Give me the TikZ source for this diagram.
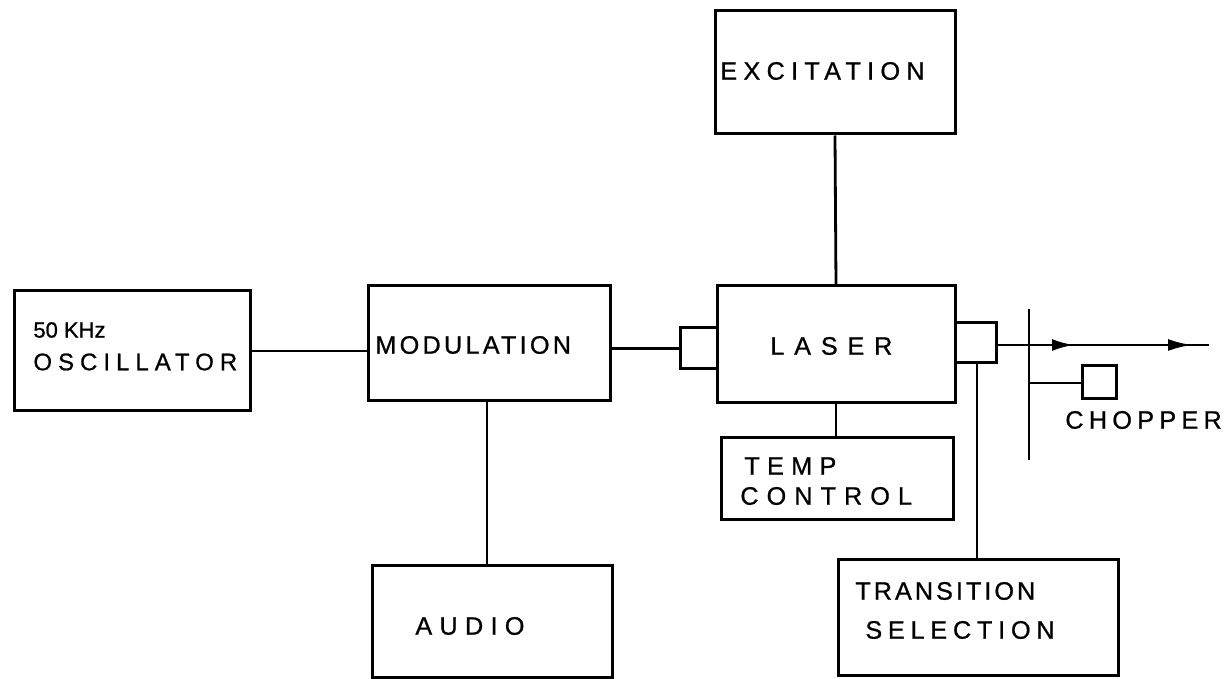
\documentclass[tikz,border=0pt]{standalone}
\usepackage{fontspec}
\setmainfont{Liberation Sans}
\usetikzlibrary{fit,arrows.meta}
\newcommand\lbfont[2]{\fontsize{#1}{#1}\selectfont\addfontfeature{LetterSpace=#2,FakeBold=0.8}}
\begin{document}
\begin{tikzpicture}[x=0.5pt,y=-0.5pt,
  box/.style={draw,line width=1.5pt,inner sep=0pt},
  conn/.style={line width=1.4pt},
  lbl/.style={anchor=west,inner sep=0pt,text=black}]
\useasboundingbox (0,0) rectangle (1228,679);
% boxes
\node[box,fit={(14,291) (250,411)}] (osc) {};
\node[box,fit={(368,286) (610,401)}] (mod) {};
\node[box,fit={(372,566) (612,677)}] (audio) {};
\node[box,fit={(715,11) (955,134)}] (exc) {};
\node[box,fit={(717,286) (955,403)}] (laser) {};
\node[box,fit={(680,328) (717,369)}] (lsm) {};
\node[box,fit={(955,323) (996,363)}] (rsm) {};
\node[box,fit={(721,438) (953,520)}] (temp) {};
\node[box,fit={(838,560) (1118,675)}] (trans) {};
\node[box,fit={(1082,366) (1116,399)}] (chop) {};
% labels
\node[lbl,font=\lbfont{11}{0}] (t50) at (33,330) {50 KHz};
\node[lbl,font=\lbfont{12}{25}] (tosc) at (33,362) {OSCILLATOR};
\node[lbl,font=\lbfont{12.6}{13}] (tmod) at (375,345) {MODULATION};
\node[lbl,font=\lbfont{12.6}{29}] (taud) at (415,626) {AUDIO};
\node[lbl,font=\lbfont{12.6}{25}] (texc) at (720,71) {EXCITATION};
\node[lbl,font=\lbfont{12.6}{39}] (tlas) at (770,346) {LASER};
\node[lbl,font=\lbfont{12.6}{29}] (ttemp) at (744,466) {TEMP};
\node[lbl,font=\lbfont{12.6}{32}] (tcon) at (740,496) {CONTROL};
\node[lbl,font=\lbfont{12.6}{21}] (tchop) at (1065,420) {CHOPPER};
\node[lbl,font=\lbfont{12.6}{12}] (ttra) at (855,591) {TRANSITION};
\node[lbl,font=\lbfont{12.6}{23}] (tsel) at (865,630) {SELECTION};
% coordinates
\coordinate (ma) at (487,401);
\coordinate (rt) at (977,363);
\coordinate (a1) at (1074,345);
\coordinate (a2) at (1192,345);
\coordinate (bend) at (1209,345);
\coordinate (bt) at (1029,309);
\coordinate (bb) at (1029,460);
\coordinate (bs) at (1029,383);
% connectors
\draw[conn] (osc.east) -- (osc.east -| mod.west);
\draw[conn] (lsm.west -| mod.east) -- (lsm.west);
\draw[conn] (exc.south) -- (laser.north);
\draw[conn] (laser.south) -- (laser.south |- temp.north);
\draw[conn] (ma) -- (ma |- audio.north);
\draw[conn] (rt) -- (rt |- trans.north);
\draw[conn] (rsm.east |- bend) -- (bend);
\draw[conn,-{Latex[length=11pt,width=6pt]}] (rsm.east |- a1) -- (a1);
\draw[conn,-{Latex[length=12pt,width=6pt]}] (a1) -- (a2);
\draw[conn] (bt) -- (bb);
\draw[conn] (bs) -- (bs -| chop.west);
\end{tikzpicture}
\end{document}
